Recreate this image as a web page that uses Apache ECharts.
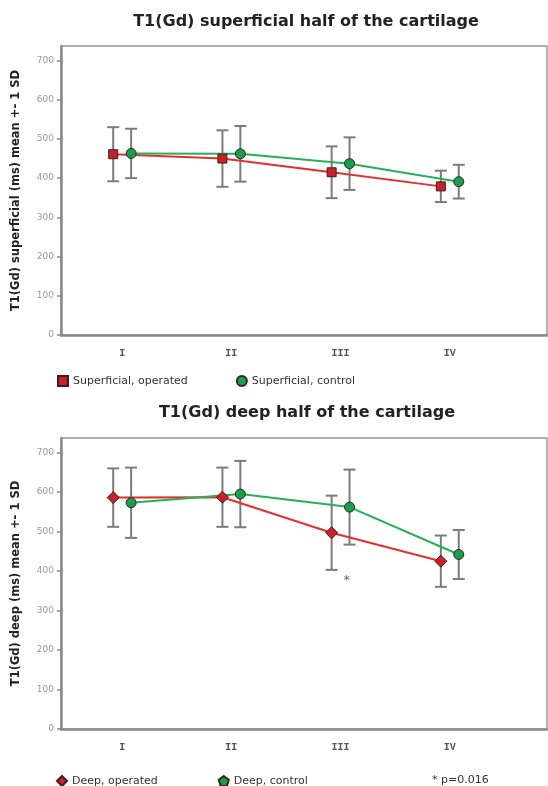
<!DOCTYPE html>
<html>
<head>
<meta charset="utf-8">
<script src="https://cdn.jsdelivr.net/npm/echarts@6/dist/echarts.min.js"></script>
<style>html,body{margin:0;padding:0;background:#fff}#c{width:548px;height:786px}</style>
</head>
<body>
<div id="c"></div>
<script>
// ---- data ----
const categories = ['I', 'II', 'III', 'IV'];
const yTicks = [0, 100, 200, 300, 400, 500, 600, 700];

const supOperatedMean = [461, 450, 415, 379];
const supOperatedSD   = [69, 72, 66, 40];
const supControlMean  = [463, 462, 437, 391];
const supControlSD    = [63, 71, 67, 43];

const deepOperatedMean = [586, 587, 497, 425];
const deepOperatedSD   = [74, 75, 94, 65];
const deepControlMean  = [573, 595, 562, 442];
const deepControlSD    = [89, 84, 95, 62];

const sigCategory = 2;      // III
const sigMarkY = 375;       // position of the "*"
const sigText = '* p=0.016';

// ---- styles ----
const DODGE = 0.082;
const RED_LINE = '#e3302e', RED_FILL = '#c9202a';
const GREEN_LINE = '#22b15a', GREEN_FILL = '#17a04c';
const BAR_COLOR = '#7c7c7c';
const PENTAGON = 'path://M50,0 L100,38 L81,100 L19,100 L0,38 Z';

function pts(means, off) { return means.map((m, i) => [i + off, m]); }
function bars(means, sds, off) { return means.map((m, i) => [i + off, m, sds[i]]); }

function errRender(params, api) {
  const x = api.value(0), m = api.value(1), sd = api.value(2);
  const t = api.coord([x, m + sd]), b = api.coord([x, m - sd]);
  const hw = 6;
  const st = { stroke: BAR_COLOR, lineWidth: 2 };
  return {
    type: 'group',
    children: [
      { type: 'line', shape: { x1: t[0], y1: t[1], x2: b[0], y2: b[1] }, style: st },
      { type: 'line', shape: { x1: t[0] - hw, y1: t[1], x2: t[0] + hw, y2: t[1] }, style: st },
      { type: 'line', shape: { x1: b[0] - hw, y1: b[1], x2: b[0] + hw, y2: b[1] }, style: st }
    ]
  };
}

const axisGray = '#8a8a8a';
function makeX(gi) {
  return {
    type: 'value', gridIndex: gi, min: -0.56, max: 3.89,
    axisLine: { show: true, onZero: false, lineStyle: { color: axisGray, width: 2.5 } },
    axisTick: { show: false },
    splitLine: { show: false },
    axisLabel: {
      customValues: [0, 1, 2, 3],
      formatter: v => categories[Math.round(v)] || '',
      fontFamily: 'Liberation Mono', fontSize: 10, fontWeight: 'bold', color: '#555', margin: 13
    }
  };
}
function makeY(gi, name) {
  return {
    type: 'value', gridIndex: gi, min: 0, max: 737,
    name: name, nameLocation: 'middle', nameGap: 39,
    nameTextStyle: { fontFamily: 'DejaVu Sans', fontWeight: 'bold', fontSize: 11.5, color: '#222' },
    axisLine: { show: true, onZero: false, lineStyle: { color: axisGray, width: 2.5 } },
    axisTick: { show: true, length: 4, customValues: yTicks, lineStyle: { color: axisGray, width: 1.5 } },
    splitLine: { show: false },
    axisLabel: {
      customValues: yTicks,
      formatter: v => (v % 100 === 0 ? String(v) : ''),
      fontFamily: 'DejaVu Sans', fontSize: 9, color: '#999', margin: 7
    }
  };
}

function lineSeries(name, gi, data, symbol, size, lineColor, fill) {
  return {
    name: name, type: 'line', xAxisIndex: gi, yAxisIndex: gi, data: data,
    symbol: symbol, symbolSize: size, z: 5,
    lineStyle: { color: lineColor, width: 2 },
    itemStyle: { color: fill, borderColor: '#3a2020', borderWidth: 1 },
    emphasis: { disabled: true }, animation: false
  };
}
function errSeries(gi, data) {
  return {
    type: 'custom', xAxisIndex: gi, yAxisIndex: gi, data: data,
    encode: { x: 0, y: 1 }, renderItem: errRender, z: 2, silent: true, animation: false
  };
}

const chart = echarts.init(document.getElementById('c'), null, { renderer: 'canvas' });
chart.setOption({
  backgroundColor: '#fff',
  animation: false,
  title: [
    { text: 'T1(Gd) superficial half of the cartilage', left: 306, top: 14, padding: 0, textAlign: 'center',
      textStyle: { fontFamily: 'DejaVu Sans', fontWeight: 'bold', fontSize: 16, color: '#222' } },
    { text: 'T1(Gd) deep half of the cartilage', left: 307, top: 405, padding: 0, textAlign: 'center',
      textStyle: { fontFamily: 'DejaVu Sans', fontWeight: 'bold', fontSize: 16, color: '#222' } },
    { text: sigText, left: 432, top: 775, padding: 0,
      textStyle: { fontFamily: 'DejaVu Sans', fontWeight: 'normal', fontSize: 11, color: '#333' } }
  ],
  grid: [
    { left: 61, top: 46, width: 486, height: 289, show: true, borderColor: '#999', borderWidth: 1.5, backgroundColor: '#fff' },
    { left: 61, top: 438, width: 486, height: 291, show: true, borderColor: '#999', borderWidth: 1.5, backgroundColor: '#fff' }
  ],
  legend: [
    { left: 57, top: 375, padding: 0, itemWidth: 10, itemHeight: 10, itemGap: 48, selectedMode: false,
      textStyle: { fontFamily: 'DejaVu Sans', fontSize: 11, color: '#333' },
      data: [{ name: 'Superficial, operated', icon: 'rect' }, { name: 'Superficial, control', icon: 'circle' }] },
    { left: 56, top: 775, padding: 0, itemWidth: 10, itemHeight: 10, itemGap: 60, selectedMode: false,
      textStyle: { fontFamily: 'DejaVu Sans', fontSize: 11, color: '#333' },
      data: [{ name: 'Deep, operated', icon: 'diamond' }, { name: 'Deep, control', icon: PENTAGON }] }
  ],
  xAxis: [makeX(0), makeX(1)],
  yAxis: [makeY(0, 'T1(Gd) superficial (ms) mean +- 1 SD'), makeY(1, 'T1(Gd) deep (ms) mean +- 1 SD')],
  series: [
    errSeries(0, bars(supOperatedMean, supOperatedSD, -DODGE)),
    errSeries(0, bars(supControlMean, supControlSD, DODGE)),
    lineSeries('Superficial, operated', 0, pts(supOperatedMean, -DODGE), 'rect', 9, RED_LINE, RED_FILL),
    lineSeries('Superficial, control', 0, pts(supControlMean, DODGE), 'circle', 10, GREEN_LINE, GREEN_FILL),
    errSeries(1, bars(deepOperatedMean, deepOperatedSD, -DODGE)),
    errSeries(1, bars(deepControlMean, deepControlSD, DODGE)),
    lineSeries('Deep, operated', 1, pts(deepOperatedMean, -DODGE), 'diamond', 12, RED_LINE, RED_FILL),
    lineSeries('Deep, control', 1, pts(deepControlMean, DODGE), 'circle', 10, GREEN_LINE, GREEN_FILL),
    {
      type: 'scatter', xAxisIndex: 1, yAxisIndex: 1, symbol: 'circle', symbolSize: 1, silent: true,
      itemStyle: { color: 'rgba(0,0,0,0)' },
      data: [[sigCategory + DODGE * 0.7, sigMarkY]],
      label: { show: true, position: 'inside', formatter: '*', fontFamily: 'DejaVu Sans', fontSize: 12, color: '#333' }
    }
  ]
});
</script>
</body>
</html>
